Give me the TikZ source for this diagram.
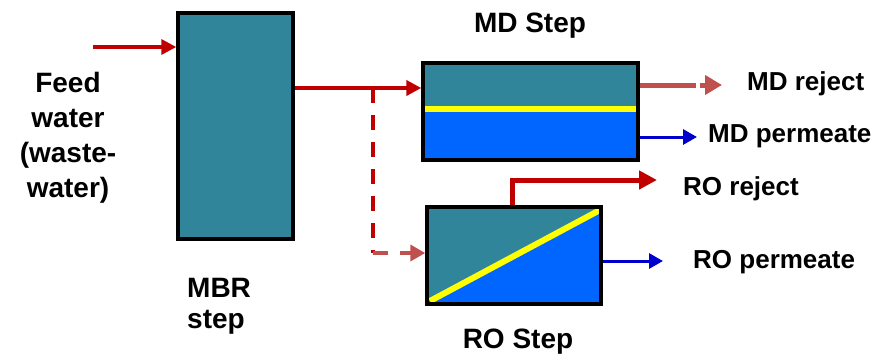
\documentclass[tikz,border=0pt]{standalone}
\usepackage{fontspec}
\setmainfont{Liberation Sans}
\usetikzlibrary{arrows.meta,calc}
\definecolor{tealbox}{RGB}{49,133,155}
\definecolor{bluebox}{RGB}{0,102,255}
\definecolor{darkred}{RGB}{192,0,0}
\definecolor{lightred}{RGB}{192,80,77}
\definecolor{permblue}{RGB}{0,0,204}
\definecolor{memyellow}{RGB}{255,255,0}
\begin{document}
\begin{tikzpicture}[x=1pt,y=-1pt,
  unitbox/.style={draw=black,line width=3.4pt,inner sep=0pt},
  bigtext/.style={font=\bfseries\fontsize{28}{31}\selectfont,inner sep=0pt},
  smalltext/.style={font=\bfseries\fontsize{26}{30}\selectfont,inner sep=0pt},
  redflow/.style={draw=darkred,line width=4pt,-{Triangle[length=15pt,width=15pt]}},
  blueflow/.style={draw=permblue,line width=3pt,-{Triangle[length=14pt,width=15pt]}},
  dashflow/.style={line width=4pt,dash pattern=on 15pt off 12pt}]
\useasboundingbox (0,0) rectangle (886,354);
% fills of the MD unit
\fill[tealbox] (423,63) rectangle (638,109);
\fill[bluebox] (423,109) rectangle (638,160);
\draw[memyellow,line width=6pt] (423,109) -- (638,109);
% fills of the RO unit
\fill[tealbox] (427,207) rectangle (601,304);
\fill[bluebox] (428,302) -- (600,209) -- (601,304) -- cycle;
\draw[memyellow,line width=6pt] (430,301) -- (600,210);
% units
\node[unitbox,fill=tealbox,minimum width=115pt,minimum height=226pt] (mbr) at (235.5,126) {};
\node[unitbox,minimum width=215pt,minimum height=97pt] (md) at (530.5,111.5) {};
\node[unitbox,minimum width=174pt,minimum height=97pt] (ro) at (514,255.5) {};
% coordinates
\coordinate (feedstart) at (93,47);
\coordinate (branch) at (373,88);
\coordinate (corner) at (373,253);
\coordinate (mdrej) at (722,85);
\coordinate (mdperm) at (697,137);
\coordinate (roturn) at (512,180);
\coordinate (rorej) at (657,180);
\coordinate (roperm) at (663,261);
% flows
\draw[redflow,line width=3.3pt] (feedstart) -- (mbr.west |- feedstart);
\draw[redflow] (mbr.east |- branch) -- (branch) -- (md.west |- branch);
\draw[dashflow,draw=darkred] (branch) -- (corner);
\draw[dashflow,draw=lightred,-{Triangle[length=15pt,width=16pt]}] (corner) -- (ro.west |- corner);
\draw[draw=lightred,line width=5pt,dash pattern=on 56pt off 4pt on 20pt,-{Triangle[length=17pt,width=19pt]}] (md.east |- mdrej) -- (mdrej);
\draw[blueflow] (md.east |- mdperm) -- (mdperm);
\draw[redflow,line width=5pt,-{Triangle[length=18pt,width=18pt]}] (ro.north -| roturn) -- (roturn) -- (rorej);
\draw[blueflow] (ro.east |- roperm) -- (roperm);
% labels
\node[bigtext,align=center,anchor=base] (feedlbl) at (68,197) {Feed\\[4pt]water\\[4pt](waste-\\[4pt]water)};
\node[bigtext,align=left,anchor=base west] (mbrlbl) at (187,328) {MBR\\step};
\node[bigtext,anchor=base] (mdlbl) at (530,32) {MD Step};
\node[bigtext,anchor=base] (rolbl) at (518,348) {RO Step};
\node[smalltext,anchor=base west] (mdrejlbl) at (747,90) {MD reject};
\node[smalltext,anchor=base west] (mdpermlbl) at (708,142) {MD permeate};
\node[smalltext,anchor=base west] (rorejlbl) at (683,195) {RO reject};
\node[smalltext,anchor=base west] (ropermlbl) at (693,268) {RO permeate};
\end{tikzpicture}
\end{document}
